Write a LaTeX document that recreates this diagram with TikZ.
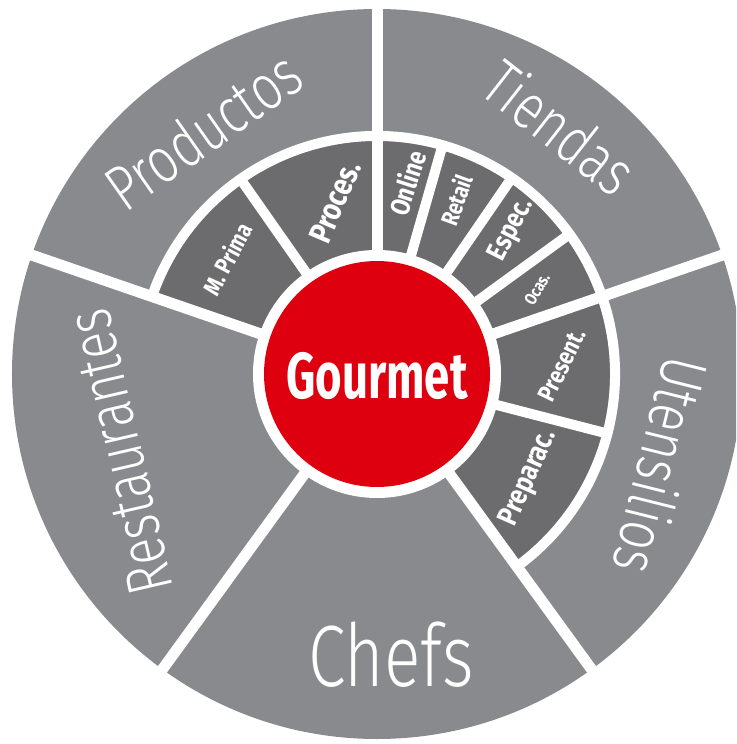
\documentclass[tikz,border=0pt]{standalone}
\usepackage{fontspec}
\newfontfamily\thinfont[FakeStretch=0.78]{Fira Sans Light}
\newfontfamily\heavyfont[FakeStretch=0.7]{Fira Sans}
\newfontfamily\subfont[FakeStretch=0.82]{Fira Sans}
\definecolor{ringgray}{RGB}{137,138,142}
\definecolor{subgray}{RGB}{108,108,110}
\definecolor{gourmetred}{RGB}{222,0,14}
\tikzset{
  sector/.style={text=white,font=\thinfont\fontsize{#1}{#1}\selectfont},
  sector/.default=64,
  subsector/.style={text=white,font=\subfont\bfseries\fontsize{#1}{#1}\selectfont},
  gap/.style={white,line width=11}
}
\begin{document}
\begin{tikzpicture}[x=1pt,y=1pt]
\useasboundingbox (-377,-370) rectangle (359,374);
\clip (-377,-370) rectangle (359,374);
\fill[ringgray] (0,0) circle (365);
\fill[subgray] (161:124) arc[start angle=161,end angle=-54,radius=124] -- (-54:233) arc[start angle=-54,end angle=161,radius=233] -- cycle;
\draw[gap,line width=10] (161:238) arc[start angle=161,end angle=-54,radius=238];
\foreach \a in {90,161,234,306,19} \draw[gap] (\a:118) -- (\a:380);
\foreach \a in {125,74,55.5,36,-14.5} \draw[gap,line width=10] (\a:118) -- (\a:238);
\fill[white] (0,0) circle (124);
\fill[gourmetred] (0,0) circle (113);
\node[text=white,font=\heavyfont\bfseries\fontsize{65}{65}\selectfont] (gourmet) at (0,-2) {Gourmet};
\node[sector,rotate=35] (productos) at (-174,244) {Productos};
\node[sector,rotate=-38] (tiendas) at (183,247) {Tiendas};
\node[sector,rotate=-104] (utensilios) at (285,-92) {Utensilios};
\node[sector=87] (chefs) at (14,-281) {Chefs};
\node[sector,rotate=103] (restaurantes) at (-257,-78) {Restaurantes};
\node[subsector=24,rotate=62] (mprima) at (-150,115) {M. Prima};
\node[subsector=32,rotate=67] (proces) at (-42,172) {Proces.};
\node[subsector=27,rotate=72] (online) at (30,191) {Online};
\node[subsector=24,rotate=70] (retail) at (79,174) {Retail};
\node[subsector=28,rotate=63] (espec) at (135,144) {Espec.};
\node[subsector=17,rotate=60] (ocas) at (160,85) {Ocas.};
\node[subsector=25,rotate=64] (present) at (185,9) {Present.};
\node[subsector=29,rotate=66] (preparac) at (152,-104) {Preparac.};
\end{tikzpicture}
\end{document}
